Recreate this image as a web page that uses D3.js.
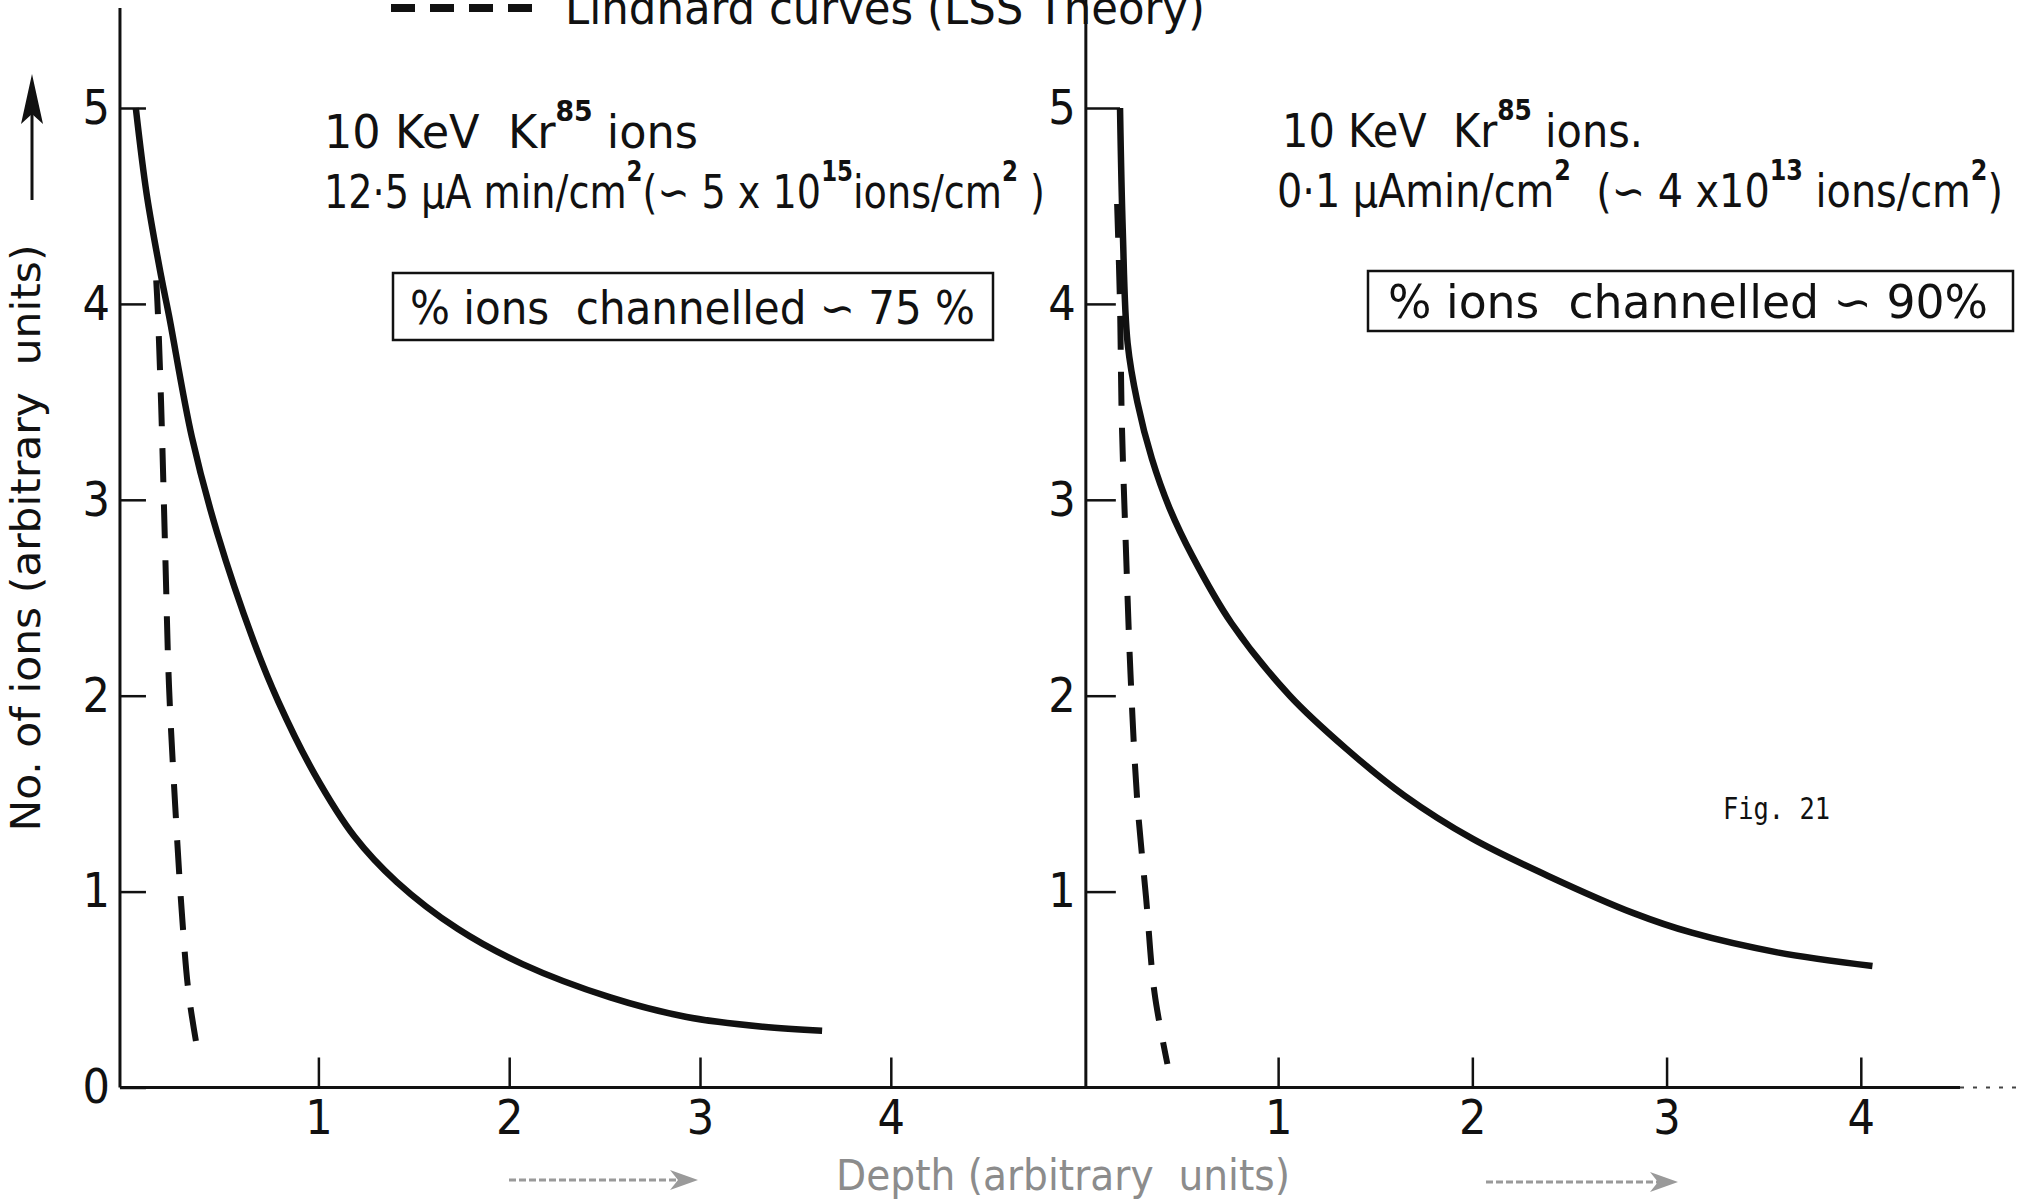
<!DOCTYPE html>
<html>
<head>
<meta charset="utf-8">
<script src="https://cdn.jsdelivr.net/npm/d3@7"></script>
<style>
  body { margin: 0; background: #fff; }
  svg text { font-family: "DejaVu Sans Condensed", "DejaVu Sans", sans-serif; white-space: pre; }
</style>
</head>
<body>
<div id="chart"></div>
<script>
// values (depth and ion count, arbitrary units)

// left panel: 12.5 uA min/cm2
var leftSolidDepth = [0.043, 0.10, 0.176, 0.217, 0.337, 0.47, 0.66, 0.79, 0.98, 1.19, 1.41, 1.73, 2.07, 2.53, 2.93, 3.33, 3.64];
var leftSolidIons  = [5.0, 4.56, 4.14, 3.94, 3.32, 2.83, 2.28, 1.97, 1.60, 1.28, 1.05, 0.81, 0.63, 0.46, 0.36, 0.31, 0.29];
var leftLssDepth   = [0.15, 0.158, 0.176, 0.198, 0.217, 0.25, 0.283, 0.32, 0.37];
var leftLssIons    = [4.12, 3.97, 3.48, 2.70, 2.05, 1.43, 0.91, 0.48, 0.17];

// right panel: 0.1 uA min/cm2
var rightSolidDepth = [0.186, 0.20, 0.225, 0.275, 0.35, 0.44, 0.56, 0.76, 1.06, 1.35, 1.65, 2.0, 2.39, 2.83, 3.13, 3.57, 4.06];
var rightSolidIons  = [5.0, 4.38, 3.80, 3.50, 3.21, 2.96, 2.71, 2.37, 2.00, 1.73, 1.49, 1.27, 1.08, 0.89, 0.79, 0.69, 0.62];
var rightLssDepth   = [0.171, 0.186, 0.195, 0.216, 0.24, 0.275, 0.32, 0.364, 0.43];
var rightLssIons    = [4.51, 3.99, 3.41, 2.76, 2.11, 1.46, 0.97, 0.48, 0.12];

// tick labels
var xTicks = [1, 2, 3, 4];
var yTicksLeft = [0, 1, 2, 3, 4, 5];
var yTicksRight = [1, 2, 3, 4, 5];

// text ("^" marks a superscript piece)
var titleText = "Lindhard curves (LSS Theory)";
var leftLine1 = ["10 KeV  Kr", "^85", " ions"];
var leftLine2 = ["12·5 μA min/cm", "^2", "(∽ 5 x 10", "^15", "ions/cm", "^2", " )"];
var rightLine1 = ["10 KeV  Kr", "^85", " ions."];
var rightLine2 = ["0·1 μAmin/cm", "^2", "  (∽ 4 x10", "^13", " ions/cm", "^2", ")"];
var leftBoxText = "% ions  channelled ∽ 75 %";
var rightBoxText = "% ions  channelled ∽ 90%";
var yLabel = "No. of ions (arbitrary  units)";
var xLabel = "Depth (arbitrary  units)";
var figText = "Fig. 21";

var width = 2023, height = 1200;

var svg = d3.select("#chart")
  .append("svg")
  .attr("width", width)
  .attr("height", height);

// scales
var yScale = d3.scaleLinear().domain([0, 5]).range([1087.5, 108]);
var xLeft = d3.scaleLinear().domain([0, 4]).range([127.6, 890.8]);
var xRight = d3.scaleLinear().domain([0, 4]).range([1083.9, 1860.8]);

var axisY = yScale(0);
var leftAxisX = xLeft(-0.04);
var rightAxisX = xRight(0.01);

// axis lines (the scan fades to dots at the far right)
svg.append("line")
  .attr("x1", leftAxisX).attr("x2", 1960)
  .attr("y1", axisY).attr("y2", axisY)
  .attr("stroke", "#111").attr("stroke-width", 3);
svg.append("line")
  .attr("x1", 1960).attr("x2", width)
  .attr("y1", axisY).attr("y2", axisY)
  .attr("stroke", "#444").attr("stroke-width", 2)
  .attr("stroke-dasharray", "4,9");

svg.append("line")
  .attr("x1", leftAxisX).attr("x2", leftAxisX)
  .attr("y1", 8).attr("y2", axisY)
  .attr("stroke", "#111").attr("stroke-width", 3);

svg.append("line")
  .attr("x1", rightAxisX).attr("x2", rightAxisX)
  .attr("y1", 0).attr("y2", axisY)
  .attr("stroke", "#111").attr("stroke-width", 3);

function styleAxis(g) {
  g.select(".domain").remove();
  g.attr("font-size", 48)
   .attr("font-family", "'DejaVu Sans Condensed', 'DejaVu Sans', sans-serif");
  g.selectAll(".tick line").attr("stroke", "#111").attr("stroke-width", 2.5);
  g.selectAll(".tick text").attr("fill", "#111");
}

// x axes (ticks point up into the plot)
svg.append("g")
  .attr("class", "x axis left")
  .attr("transform", "translate(0," + axisY + ")")
  .call(d3.axisBottom(xLeft).tickValues(xTicks).tickSize(-30).tickPadding(12).tickFormat(d3.format("d")))
  .call(styleAxis);

svg.append("g")
  .attr("class", "x axis right")
  .attr("transform", "translate(0," + axisY + ")")
  .call(d3.axisBottom(xRight).tickValues(xTicks).tickSize(-30).tickPadding(12).tickFormat(d3.format("d")))
  .call(styleAxis);

// y axes (ticks point right into the plot)
svg.append("g")
  .attr("class", "y axis left")
  .attr("transform", "translate(" + leftAxisX + ",0)")
  .call(d3.axisLeft(yScale).tickValues(yTicksLeft).tickSize(-26).tickPadding(10).tickFormat(d3.format("d")))
  .call(styleAxis);

var rightY = svg.append("g")
  .attr("class", "y axis right")
  .attr("transform", "translate(" + rightAxisX + ",0)")
  .call(d3.axisLeft(yScale).tickValues(yTicksRight).tickSize(-30).tickPadding(10).tickFormat(d3.format("d")))
  .call(styleAxis);

// the 5 tick on the right runs over to where the curve starts
rightY.selectAll(".tick")
  .filter(function(d) { return d === 5; })
  .select("line")
  .attr("x2", xRight(rightSolidDepth[0]) - rightAxisX);

// curves
function drawCurve(xs, depth, ions, dashed) {
  var pts = depth.map(function(d, i) { return [d, ions[i]]; });
  var line = d3.line()
    .x(function(d) { return xs(d[0]); })
    .y(function(d) { return yScale(d[1]); })
    .curve(d3.curveCatmullRom.alpha(0.5));
  var p = svg.append("path")
    .datum(pts)
    .attr("d", line)
    .attr("fill", "none")
    .attr("stroke", "#111")
    .attr("stroke-width", dashed ? 6 : 6.5);
  if (dashed) {
    p.attr("stroke-dasharray", "34,22");
  }
}

drawCurve(xLeft, leftSolidDepth, leftSolidIons, false);
drawCurve(xLeft, leftLssDepth, leftLssIons, true);
drawCurve(xRight, rightSolidDepth, rightSolidIons, false);
drawCurve(xRight, rightLssDepth, rightLssIons, true);

// text with superscripts
function addNote(x, y, parts, len, size) {
  var t = svg.append("text")
    .attr("x", x)
    .attr("y", y)
    .attr("font-size", size)
    .attr("fill", "#111")
    .attr("textLength", len)
    .attr("lengthAdjust", "spacingAndGlyphs");
  var up = false;
  parts.forEach(function(p) {
    var sup = p.charAt(0) === "^";
    var s = t.append("tspan").text(sup ? p.slice(1) : p);
    if (sup) {
      s.attr("font-size", size * 0.6).attr("font-weight", "bold").attr("dy", up ? 0 : -size * 0.58);
      up = true;
    } else {
      if (up) s.attr("dy", size * 0.58);
      up = false;
    }
  });
  return t;
}

addNote(324, 148, leftLine1, 374, 46);
addNote(324, 208, leftLine2, 721, 46);
addNote(1282, 147, rightLine1, 361, 46);
addNote(1277, 207, rightLine2, 726, 46);

// boxes
svg.append("rect")
  .attr("x", 393).attr("y", 273).attr("width", 600).attr("height", 67)
  .attr("fill", "none").attr("stroke", "#111").attr("stroke-width", 2.5);
addNote(410, 324, [leftBoxText], 565, 46);

svg.append("rect")
  .attr("x", 1368).attr("y", 271).attr("width", 645).attr("height", 60)
  .attr("fill", "none").attr("stroke", "#111").attr("stroke-width", 2.5);
addNote(1388, 318, [rightBoxText], 600, 46);

// title (top is cut off in the scan)
svg.append("line")
  .attr("x1", 391).attr("x2", 533)
  .attr("y1", 8).attr("y2", 8)
  .attr("stroke", "#111").attr("stroke-width", 8)
  .attr("stroke-dasharray", "24,15");
addNote(565, 24, [titleText], 640, 46);

// y axis label and arrow
svg.append("text")
  .attr("transform", "translate(40,538) rotate(-90)")
  .attr("text-anchor", "middle")
  .attr("font-size", 40)
  .attr("fill", "#111")
  .attr("textLength", 587)
  .attr("lengthAdjust", "spacingAndGlyphs")
  .text(yLabel);

svg.append("line")
  .attr("x1", 32).attr("x2", 32)
  .attr("y1", 200).attr("y2", 110)
  .attr("stroke", "#111").attr("stroke-width", 3);
svg.append("path")
  .attr("d", "M32,74 L43,124 L32,114 L21,124 Z")
  .attr("fill", "#111");

// x axis label and arrows
svg.append("text")
  .attr("x", 1063)
  .attr("y", 1190)
  .attr("text-anchor", "middle")
  .attr("font-size", 42)
  .attr("fill", "#8c8c8c")
  .attr("textLength", 454)
  .attr("lengthAdjust", "spacingAndGlyphs")
  .text(xLabel);

function bottomArrow(x1, x2, y) {
  svg.append("line")
    .attr("x1", x1).attr("x2", x2 - 18)
    .attr("y1", y).attr("y2", y)
    .attr("stroke", "#9a9a9a").attr("stroke-width", 3)
    .attr("stroke-dasharray", "7,3");
  svg.append("path")
    .attr("d", "M" + x2 + "," + y + " L" + (x2 - 28) + "," + (y - 10) + " L" + (x2 - 20) + "," + y +
      " L" + (x2 - 28) + "," + (y + 10) + " Z")
    .attr("fill", "#9a9a9a");
}
bottomArrow(509, 698, 1180);
bottomArrow(1486, 1678, 1182);

// figure number
svg.append("text")
  .attr("x", 1723)
  .attr("y", 819)
  .style("font-family", "'DejaVu Sans Mono', 'Liberation Mono', monospace")
  .attr("font-size", 30)
  .attr("fill", "#111")
  .attr("textLength", 107)
  .attr("lengthAdjust", "spacingAndGlyphs")
  .text(figText);
</script>
</body>
</html>
